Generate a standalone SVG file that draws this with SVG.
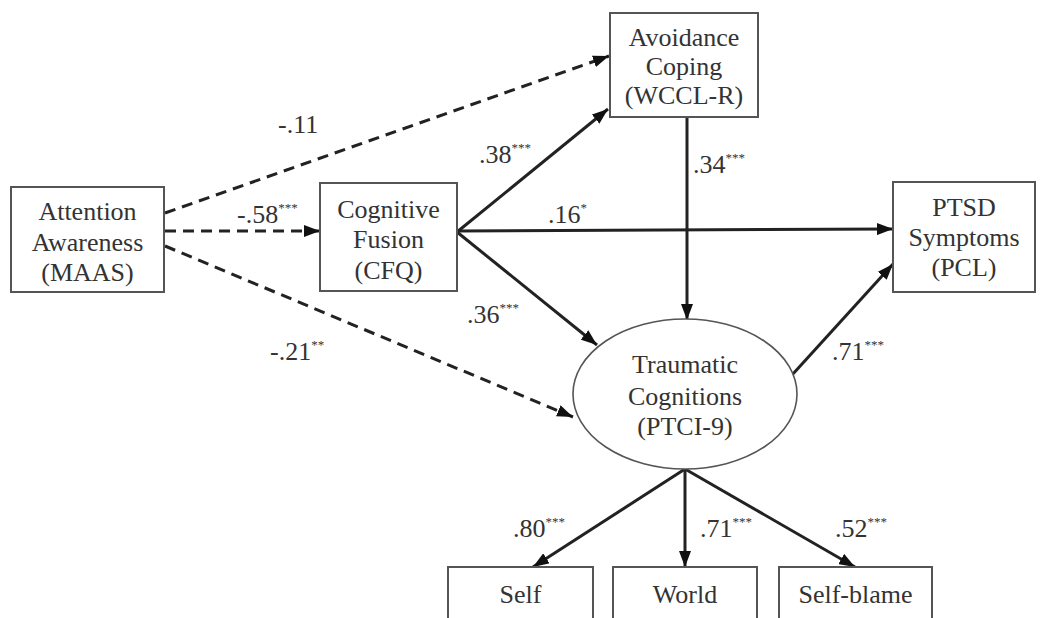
<svg xmlns="http://www.w3.org/2000/svg" width="1047" height="618" viewBox="0 0 1047 618">
<style>
.box{fill:#fff;stroke:#555;stroke-width:2}
.ell{fill:#fff;stroke:#555;stroke-width:1.6}
.t{font-family:'Liberation Serif','DejaVu Serif',serif;font-size:26px;fill:#333;text-anchor:middle}
.l{font-family:'Liberation Serif','DejaVu Serif',serif;font-size:26px;fill:#333}
.sup{font-size:13px}
.c{stroke:#222;stroke-width:3;fill:none;marker-end:url(#ah)}
.d{stroke-dasharray:11 7}
</style>
<defs>
<marker id="ah" viewBox="0 0 16 12" refX="16" refY="6" markerWidth="16" markerHeight="12" markerUnits="userSpaceOnUse" orient="auto">
<path d="M0,0 L16,6 L0,12 z" fill="#111"/>
</marker>
</defs>
<rect width="1047" height="618" fill="#fff"/>
<g id="connectors">
<path class="c d" d="M165,213 L609,56"/>
<path class="c d" d="M165,231 L320,231"/>
<path class="c d" d="M165,246 L573,417"/>
<path class="c" d="M457,232 L608,109"/>
<path class="c" d="M457,231 L893,229"/>
<path class="c" d="M457,232 L597,345"/>
<path class="c" d="M687,117 L687,320"/>
<path class="c" d="M792,375 L893,264"/>
<path class="c" d="M685,469 L533,567"/>
<path class="c" d="M685,469 L685,567"/>
<path class="c" d="M685,469 L855,567"/>
</g>
<g id="labels">
<text class="l" x="278" y="133">-.11</text>
<text class="l" x="237" y="223">-.58<tspan class="sup" dy="-11">***</tspan></text>
<text class="l" x="479" y="163">.38<tspan class="sup" dy="-11">***</tspan></text>
<text class="l" x="693" y="173">.34<tspan class="sup" dy="-11">***</tspan></text>
<text class="l" x="548" y="223">.16<tspan class="sup" dy="-11">*</tspan></text>
<text class="l" x="467" y="323">.36<tspan class="sup" dy="-11">***</tspan></text>
<text class="l" x="270" y="360">-.21<tspan class="sup" dy="-11">**</tspan></text>
<text class="l" x="832" y="360">.71<tspan class="sup" dy="-11">***</tspan></text>
<text class="l" x="513" y="537">.80<tspan class="sup" dy="-11">***</tspan></text>
<text class="l" x="700" y="537">.71<tspan class="sup" dy="-11">***</tspan></text>
<text class="l" x="835" y="537">.52<tspan class="sup" dy="-11">***</tspan></text>
</g>
<g id="attention">
<rect class="box" x="11" y="187" width="153" height="105"/>
<text class="t" x="87.5" y="220">Attention</text>
<text class="t" x="87.5" y="251">Awareness</text>
<text class="t" x="87.5" y="281">(MAAS)</text>
</g>
<g id="fusion">
<rect class="box" x="320" y="183" width="137" height="108"/>
<text class="t" x="388.5" y="218">Cognitive</text>
<text class="t" x="388.5" y="248">Fusion</text>
<text class="t" x="388.5" y="279">(CFQ)</text>
</g>
<g id="avoidance">
<rect class="box" x="610" y="13" width="148" height="104"/>
<text class="t" x="684" y="46">Avoidance</text>
<text class="t" x="684" y="75">Coping</text>
<text class="t" x="684" y="104">(WCCL-R)</text>
</g>
<g id="ptsd">
<rect class="box" x="893" y="182" width="142" height="110"/>
<text class="t" x="964" y="216">PTSD</text>
<text class="t" x="964" y="246">Symptoms</text>
<text class="t" x="964" y="276">(PCL)</text>
</g>
<g id="traumatic">
<ellipse class="ell" cx="685" cy="394" rx="112" ry="75"/>
<text class="t" x="685" y="373">Traumatic</text>
<text class="t" x="685" y="405">Cognitions</text>
<text class="t" x="685" y="435">(PTCI-9)</text>
</g>
<g id="self">
<rect class="box" x="448" y="567" width="145" height="70"/>
<text class="t" x="520.5" y="603">Self</text>
</g>
<g id="world">
<rect class="box" x="613" y="567" width="144" height="70"/>
<text class="t" x="685" y="603">World</text>
</g>
<g id="selfblame">
<rect class="box" x="779" y="567" width="153" height="70"/>
<text class="t" x="855.5" y="603">Self-blame</text>
</g>
</svg>
